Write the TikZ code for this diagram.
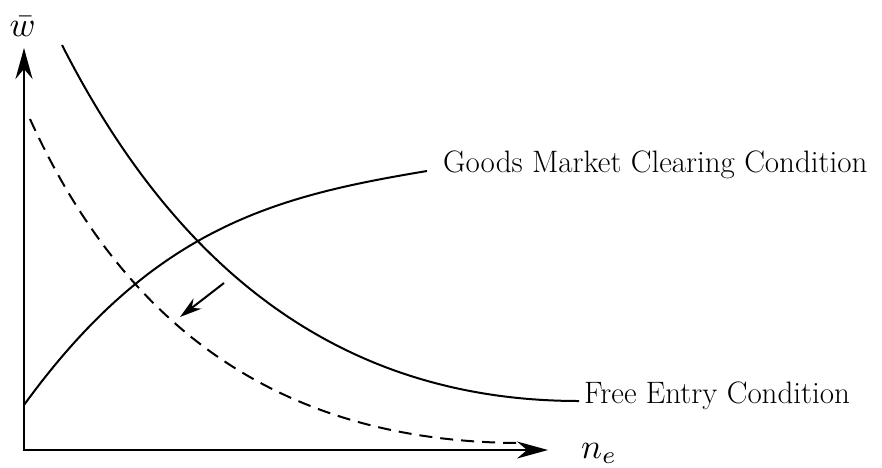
\documentclass[tikz,border=0pt]{standalone}
\usetikzlibrary{arrows.meta}
\usepackage{graphicx}
\begin{document}
\begin{tikzpicture}[x=1pt,y=-1pt,
  axis/.style={line width=2.3pt},
  curve/.style={line width=2pt},
  dcurve/.style={line width=2pt, dash pattern=on 13pt off 8pt},
  txt/.style={font=\fontsize{31}{37}\selectfont, inner sep=0pt, anchor=base west},
  mathlbl/.style={inner sep=0pt}]
\useasboundingbox (0,0) rectangle (882,467);
% axes
\coordinate (O) at (24,450);
\coordinate (Ytip) at (24,48);
\coordinate (Xtip) at (548,450);
\draw[axis, {Stealth[length=31pt,width=17pt,inset=10pt]}-{Stealth[length=31pt,width=17pt,inset=10pt]}] (Ytip) -- (O) -- (Xtip);
\node[mathlbl, anchor=base] (wlab) at (22.5,36) {\scalebox{3.5}{$\bar w$}};
\node[mathlbl, anchor=base west] (nlab) at (581,458) {\scalebox{3.5}{$n_e$}};
% free entry curve
\coordinate (feS) at (62,45);
\coordinate (feE) at (579,401);
\draw[curve] (feS) .. controls (170,257) and (330,401) .. (feE);
% goods market curve
\coordinate (gmS) at (24,405);
\coordinate (gmE) at (427,171);
\draw[curve] (gmS) .. controls (154,226) and (277,196) .. (gmE);
% dashed shifted curve
\coordinate (dS) at (30,119);
\coordinate (dE) at (520,443);
\draw[dcurve] (dS) .. controls (120,317) and (270,442) .. (dE);
% shift arrow
\coordinate (aS) at (224,283);
\coordinate (aE) at (180,317);
\draw[curve, -{Stealth[length=22pt,width=13pt,inset=7pt]}] (aS) -- (aE);
% labels
\node[txt] (gmc) at (443,172) {Goods Market Clearing Condition};
\node[txt] (fec) at (584,403) {Free Entry Condition};
\end{tikzpicture}
\end{document}
